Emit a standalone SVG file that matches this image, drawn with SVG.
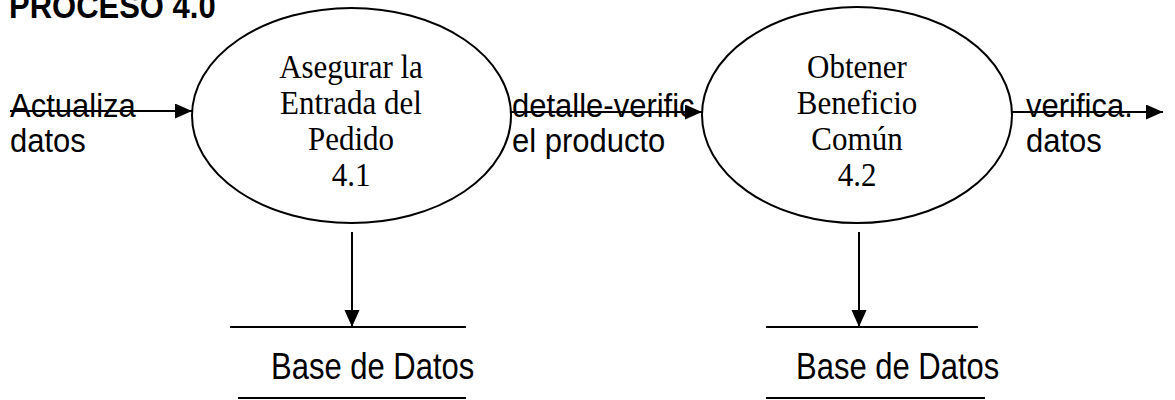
<svg xmlns="http://www.w3.org/2000/svg" width="1175" height="400" viewBox="0 0 1175 400">
  <style>
    .sans { font-family: "Liberation Sans", Arial, sans-serif; font-size: 31px; fill: #000; }
    .bold { font-weight: bold; }
    .serif { font-family: "Liberation Serif", "Times New Roman", serif; font-size: 31px; fill: #000; text-anchor: middle; }
    .proc { fill: #fff; stroke: #000; stroke-width: 2; }
    .flow { stroke: #000; stroke-width: 2; fill: none; }
    .store { stroke: #000; stroke-width: 2; }
  </style>
  <defs>
    <marker id="arrow" markerUnits="userSpaceOnUse" markerWidth="18" markerHeight="16" refX="17" refY="7.5" orient="auto">
      <path d="M0,0 L17,7.5 L0,15 z" fill="#000"/>
    </marker>
  </defs>
  <rect width="1175" height="400" fill="#fff"/>

  <text class="sans bold" transform="translate(9,18) scale(1,1.15)">PROCESO 4.0</text>

  <g id="proc-4-1">
    <ellipse class="proc" cx="351.5" cy="115.5" rx="159.5" ry="107.5"/>
    <text class="serif" transform="translate(351,78) scale(1,1.1)">Asegurar la</text>
    <text class="serif" transform="translate(351,114) scale(1,1.1)">Entrada del</text>
    <text class="serif" transform="translate(351,150) scale(1,1.1)">Pedido</text>
    <text class="serif" transform="translate(351,186) scale(1,1.1)">4.1</text>
  </g>

  <g id="proc-4-2">
    <ellipse class="proc" cx="857" cy="115" rx="155" ry="108"/>
    <text class="serif" transform="translate(857,78) scale(1,1.1)">Obtener</text>
    <text class="serif" transform="translate(857,114) scale(1,1.1)">Beneficio</text>
    <text class="serif" transform="translate(857,150) scale(1,1.1)">Común</text>
    <text class="serif" transform="translate(857,186) scale(1,1.1)">4.2</text>
  </g>

  <g id="store-1">
    <line class="store" x1="230" y1="327" x2="466" y2="327"/>
    <line class="store" x1="238" y1="398" x2="466" y2="398"/>
    <text class="sans" transform="translate(271,379) scale(1,1.2)">Base de Datos</text>
  </g>

  <g id="store-2">
    <line class="store" x1="766" y1="327" x2="978" y2="327"/>
    <line class="store" x1="766" y1="398" x2="985" y2="398"/>
    <text class="sans" transform="translate(796,379) scale(1,1.2)">Base de Datos</text>
  </g>

  <g id="labels">
    <text class="sans" transform="translate(10,117) scale(1,1.1)">Actualiza</text>
    <text class="sans" transform="translate(10,152) scale(1,1.1)">datos</text>
    <text class="sans" transform="translate(512,117) scale(1,1.1)">detalle-verific</text>
    <text class="sans" transform="translate(512,152) scale(1,1.1)">el producto</text>
    <text class="sans" transform="translate(1026,117) scale(1,1.1)">verifica.</text>
    <text class="sans" transform="translate(1026,152) scale(1,1.1)">datos</text>
  </g>

  <g id="connectors">
    <line class="flow" x1="10" y1="111" x2="192" y2="111" marker-end="url(#arrow)"/>
    <line class="flow" x1="511" y1="112" x2="702" y2="112" marker-end="url(#arrow)"/>
    <line class="flow" x1="1012" y1="112" x2="1163" y2="112" marker-end="url(#arrow)"/>
    <line class="flow" x1="352" y1="232" x2="352" y2="327" marker-end="url(#arrow)"/>
    <line class="flow" x1="859" y1="232" x2="859" y2="327" marker-end="url(#arrow)"/>
  </g>
</svg>
